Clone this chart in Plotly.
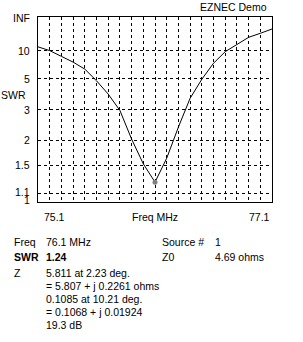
import plotly.graph_objects as go

# ---- data ----
freq_mhz = [75.1, 75.2, 75.3, 75.4, 75.5, 75.6, 75.7, 75.8, 75.9, 76.0, 76.1,
            76.2, 76.3, 76.4, 76.5, 76.6, 76.7, 76.8, 76.9, 77.0, 77.1]
swr = [11.4, 10.0, 8.4, 7.2, 6.1, 4.8, 3.8, 2.96, 2.03, 1.52, 1.24,
       1.62, 2.36, 3.55, 4.94, 7.0, 9.67, 12.5, 17.2, 21.7, 29.8]
swr_tick_vals = [10, 5, 3, 2, 1.5, 1.1]
y_tick_labels = ["INF", "10", "5", "3", "2", "1.5", "1.1", "1"]
y_tick_swr = [None, 10, 5, 3, 2, 1.5, 1.1, 1]
x_tick_labels = ["75.1", "77.1"]
marker_freq = [76.1]
marker_swr = [1.24]

info_rows = [
    ("Freq", "76.1 MHz", "Source #", "1", False),
    ("SWR", "1.24", "Z0", "4.69 ohms", True),
    ("Z", "5.811 at 2.23 deg.", "", "", False),
    ("", "= 5.807 + j 0.2261 ohms", "", "", False),
    ("", "0.1085 at 10.21 deg.", "", "", False),
    ("", "= 0.1068 + j 0.01924", "", "", False),
    ("", "19.3 dB", "", "", False),
]


def gamma(s):
    if s is None:
        return 1.0
    return (s - 1.0) / (s + 1.0)


FONT = "Arial, Liberation Sans, sans-serif"
W, H = 303, 342
L, R, T, B = 38, 31, 17, 140
PW, PH = W - L - R, H - T - B

fig = go.Figure()
fig.add_trace(go.Scatter(x=freq_mhz, y=[gamma(s) for s in swr], mode="lines",
                         line=dict(color="black", width=1), hoverinfo="skip"))
fig.add_trace(go.Scatter(x=marker_freq, y=[gamma(s) for s in marker_swr], mode="markers",
                         marker=dict(color="#808080", size=5), hoverinfo="skip"))

fig.update_layout(
    width=W, height=H, margin=dict(l=L, r=R, t=T, b=B),
    paper_bgcolor="white", plot_bgcolor="white", showlegend=False,
    font=dict(family=FONT, size=10.5, color="black"),
)
fig.update_xaxes(range=[75.1, 77.1], tick0=75.1, dtick=0.1, showticklabels=False,
                 showgrid=True, gridcolor="black", gridwidth=1, griddash="3px,3px",
                 showline=True, linecolor="black", linewidth=1, mirror=True,
                 zeroline=False, ticks="")
fig.update_yaxes(range=[0, 1], tickmode="array", tickvals=[gamma(s) for s in swr_tick_vals],
                 showticklabels=False, showgrid=True, gridcolor="black", gridwidth=1,
                 griddash="3px,3px", showline=True, linecolor="black", linewidth=1,
                 mirror=True, zeroline=False, ticks="")

ann = []
# y tick labels
shifts = {"1.1": 1.5, "1": 2.5, "INF": -0.5}
for lab, s in zip(y_tick_labels, y_tick_swr):
    ann.append(dict(x=0, xref="paper", y=gamma(s), yref="y", text=lab, showarrow=False,
                    xanchor="right", yanchor="middle", xshift=-6, yshift=shifts.get(lab, 0)))
# SWR axis title
ann.append(dict(x=0, xref="paper", y=(202 - 95.3) / PH, yref="paper", text="SWR",
                showarrow=False, xanchor="right", yanchor="middle", xshift=-10))
# x labels
ann.append(dict(x=freq_mhz[0], xref="x", y=0, yref="paper", text=x_tick_labels[0],
                showarrow=False, xanchor="left", yanchor="middle", xshift=4, yshift=-15))
ann.append(dict(x=freq_mhz[-1], xref="x", y=0, yref="paper", text=x_tick_labels[1],
                showarrow=False, xanchor="right", yanchor="middle", xshift=0, yshift=-15))
ann.append(dict(x=0.5, xref="paper", y=0, yref="paper", text="Freq MHz",
                showarrow=False, xanchor="center", yanchor="middle", yshift=-15))
# title
ann.append(dict(x=1, xref="paper", y=1, yref="paper", text="EZNEC Demo",
                showarrow=False, xanchor="right", yanchor="middle", xshift=-3, yshift=10))

# info block
row_y = [241.7, 257.3, 272.7, 286.0, 299.0, 312.3, 324.5]
col_x = [12, 44, 160, 213]
for (a, b, c, d, bold), py in zip(info_rows, row_y):
    for txt, px in zip((a, b, c, d), col_x):
        if not txt:
            continue
        t = f"<b>{txt}</b>" if bold and px < 100 else txt
        ann.append(dict(x=(px - L) / PW, xref="paper", y=(T + PH - py) / PH, yref="paper",
                        text=t, showarrow=False, xanchor="left", yanchor="middle"))

fig.update_layout(annotations=ann)
fig.write_html("out.html")
